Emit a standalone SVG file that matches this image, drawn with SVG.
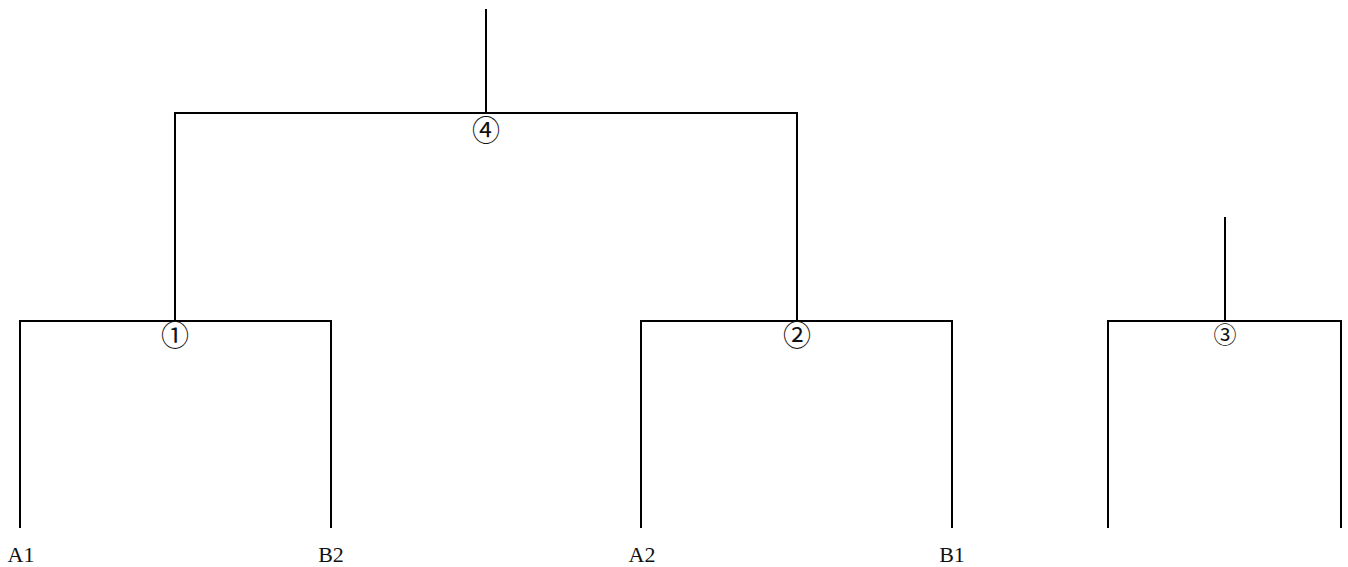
<svg xmlns="http://www.w3.org/2000/svg" width="1348" height="567" viewBox="0 0 1348 567">
<style>
.ln{stroke:#000;stroke-width:2;fill:none;stroke-linecap:butt}
.lbl{font-family:"Liberation Serif","Noto Sans CJK KR",serif;font-size:22px;fill:#111;text-anchor:middle}
.num{font-family:"Noto Sans CJK KR","Noto Sans CJK JP",sans-serif;font-size:28px;fill:#111;text-anchor:middle}
</style>
<rect width="1348" height="567" fill="#fff"/>
<g id="connectors">
<path class="ln" d="M486 9V113"/>
<path class="ln" d="M175 321V113H797V321"/>
<path class="ln" d="M20 528V321H331V528"/>
<path class="ln" d="M641 528V321H952V528"/>
<path class="ln" d="M1225 217V321"/>
<path class="ln" d="M1108 528V321H1341V528"/>
</g>
<g id="node4"><text class="num" x="486" y="140.5">④</text></g>
<g id="node1"><text class="num" x="175" y="345.5">①</text></g>
<g id="node2"><text class="num" x="797" y="345.5">②</text></g>
<g id="node3"><text class="num" x="1225" y="342.5" style="font-size:23px">③</text></g>
<g id="leafA1"><text class="lbl" x="21" y="562">A1</text></g>
<g id="leafB2"><text class="lbl" x="331" y="562">B2</text></g>
<g id="leafA2"><text class="lbl" x="642" y="562">A2</text></g>
<g id="leafB1"><text class="lbl" x="952" y="562">B1</text></g>
</svg>
